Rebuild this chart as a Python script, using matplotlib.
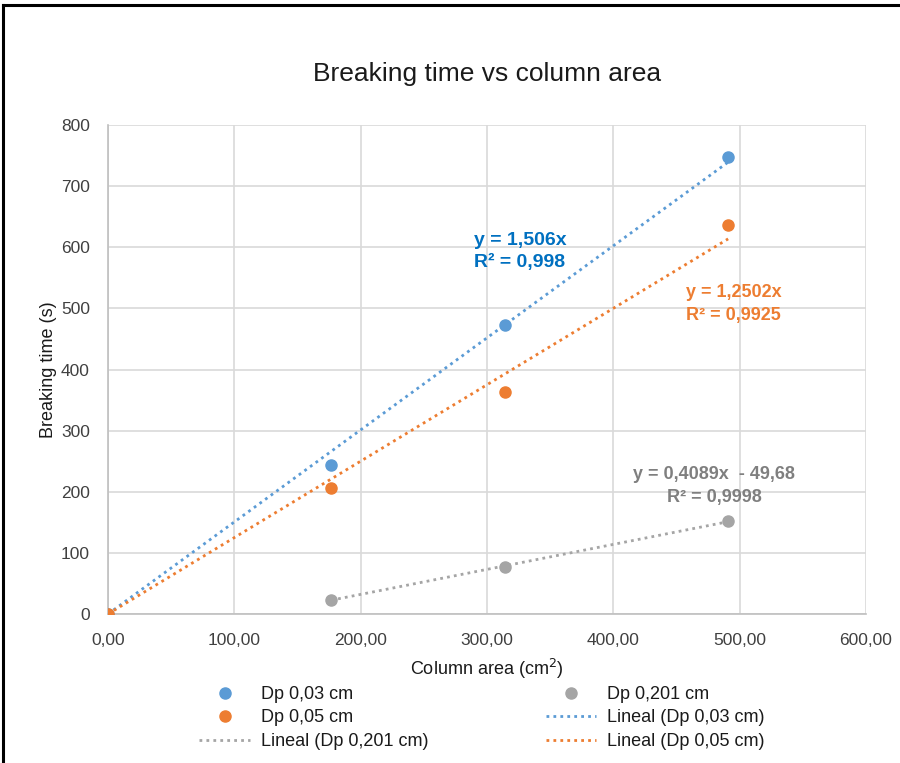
import matplotlib.pyplot as plt
from matplotlib.lines import Line2D
from matplotlib.ticker import FuncFormatter
import numpy as np

plt.rcParams['font.family'] = ['Liberation Sans Narrow', 'Liberation Sans', 'DejaVu Sans']

# Datos medidos: área de columna (cm2) y tiempo de ruptura (s)
area = [0.0, 176.71, 314.16, 490.87]
t_003 = [0, 244, 473, 748]
t_005 = [0, 206, 363, 637]
area_201 = [176.71, 314.16, 490.87]
t_201 = [23, 77, 152]

# Ajustes lineales
m_003 = 1.506
m_005 = 1.2502
m_201, b_201 = 0.4089, -49.68

azul = '#5B9BD5'
naranja = '#ED7D31'
gris = '#A5A5A5'

fig = plt.figure(figsize=(9, 7.63), dpi=100)
ax = fig.add_axes([108 / 900, 1 - 614 / 763, (866 - 108) / 900, (614 - 125) / 763])

xa = np.array([0, area[-1]])
xg = np.array([area_201[0], area_201[-1]])
ax.plot(xa, m_003 * xa, ls=(0, (1, 1.5)), color=azul, lw=2, zorder=2)
ax.plot(xa, m_005 * xa, ls=(0, (1, 1.5)), color=naranja, lw=2, zorder=2)
ax.plot(xg, m_201 * xg + b_201, ls=(0, (1, 1.5)), color=gris, lw=2, zorder=2)

ax.plot(area, t_003, 'o', color=azul, ms=8, zorder=3)
ax.plot(area, t_005, 'o', color=naranja, ms=8, zorder=3)
ax.plot(area_201, t_201, 'o', color=gris, ms=8, zorder=3)

ax.set_xlim(0, 600)
ax.set_ylim(0, 800)
ax.set_xticks(np.arange(0, 601, 100))
ax.set_yticks(np.arange(0, 801, 100))
ax.xaxis.set_major_formatter(FuncFormatter(lambda v, p: f'{v:.2f}'.replace('.', ',')))
ax.grid(color='#D9D9D9', lw=1.2)
ax.set_axisbelow(True)
for s in ['top', 'right']:
    ax.spines[s].set_visible(False)
for s in ['left', 'bottom']:
    ax.spines[s].set_color('#BFBFBF')
    ax.spines[s].set_linewidth(1.2)
ax.tick_params(length=0, labelsize=12.5, labelcolor='#404040', pad=14)
ax.tick_params(axis='y', pad=13)

ax.set_title('Breaking time vs column area', fontsize=19, color='#1a1a1a', pad=32)
ax.set_xlabel('Column area (cm$^2$)', fontsize=13, color='#1a1a1a', labelpad=6)
ax.set_ylabel('Breaking time (s)', fontsize=13, color='#1a1a1a', labelpad=3)

ax.text(326, 593, 'y = 1,506x\nR² = 0,998', color='#0070C0', fontsize=14,
        fontweight='bold', ha='center', va='center', linespacing=1.4)
ax.text(495, 507, 'y = 1,2502x\nR² = 0,9925', color=naranja, fontsize=13,
        fontweight='bold', ha='center', va='center', linespacing=1.5)
ax.text(480, 209, 'y = 0,4089x  - 49,68\nR² = 0,9998', color='#7F7F7F', fontsize=13,
        fontweight='bold', ha='center', va='center', linespacing=1.5)

h = [Line2D([], [], marker='o', ls='none', color=azul, ms=8),
     Line2D([], [], marker='o', ls='none', color=naranja, ms=8),
     Line2D([], [], ls=(0, (1, 1.5)), color=gris, lw=2),
     Line2D([], [], marker='o', ls='none', color=gris, ms=8),
     Line2D([], [], ls=(0, (1, 1.5)), color=azul, lw=2),
     Line2D([], [], ls=(0, (1, 1.5)), color=naranja, lw=2)]
lab = ['Dp 0,03 cm', 'Dp 0,05 cm', 'Lineal (Dp 0,201 cm)',
       'Dp 0,201 cm', 'Lineal (Dp 0,03 cm)', 'Lineal (Dp 0,05 cm)']
fig.legend(h, lab, ncol=2, loc='center', bbox_to_anchor=(482 / 900, 1 - 718 / 763),
           frameon=False, fontsize=13, handlelength=2.8, columnspacing=6.5,
           labelspacing=0.35, handletextpad=0.6, labelcolor='#1a1a1a')

# marco superior e izquierdo
fig.add_artist(Line2D([3 / 900, 1], [1 - 5 / 763, 1 - 5 / 763], color='black', lw=2.2))
fig.add_artist(Line2D([3 / 900, 3 / 900], [0, 1 - 5 / 763], color='black', lw=2.2))

fig.savefig('out.png', dpi=100, facecolor='white')
